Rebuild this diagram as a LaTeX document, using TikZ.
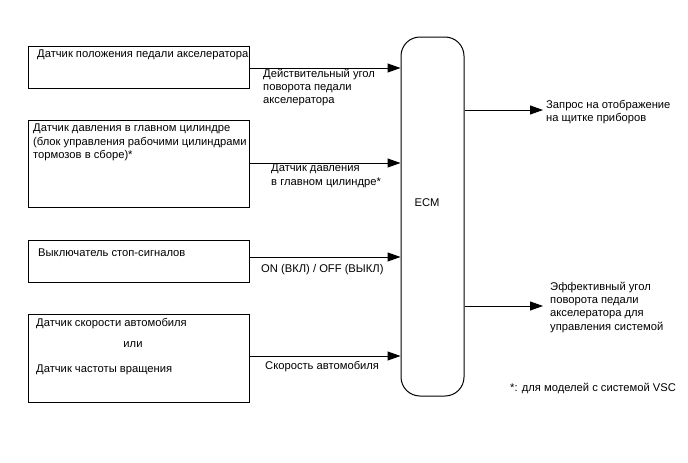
\documentclass[tikz,border=0pt]{standalone}
\usepackage{fontspec}
\setmainfont{Liberation Sans}
\usepackage{tikz}
\usetikzlibrary{arrows.meta,positioning,calc}
\tikzset{
  sensor/.style={draw, line width=1pt, minimum width=221pt, inner sep=0pt},
  ecmbox/.style={draw, line width=1pt, rounded corners=19pt, minimum width=63pt, minimum height=359pt, inner sep=0pt},
  txt/.style={inner sep=0pt, align=left, font=\fontsize{11.2}{13.2}\selectfont},
  sig/.style={line width=1pt, -{Triangle[length=13pt,width=9pt]}}
}
\begin{document}
\begin{tikzpicture}[x=1pt,y=-1pt]
\useasboundingbox (0,0) rectangle (688,463);
% sensors
\node[sensor, minimum height=42pt] (s1) at (138.5,67) {};
\node[sensor, minimum height=87pt] (s2) at (138.5,163.5) {};
\node[sensor, minimum height=42pt] (s3) at (138.5,261) {};
\node[sensor, minimum height=88pt] (s4) at (138.5,358) {};
\node[ecmbox] (ecm) at (432.5,216.5) {};
\node[txt] (ecmt) at (427,203) {ECM};

\node[txt, anchor=west] (s1t) at (37,55) {Датчик положения педали акселератора};
\node[txt, anchor=north west] (s2t) at (33,124) {Датчик давления в главном цилиндре\\(блок управления рабочими цилиндрами\\тормозов в сборе)*};
\node[txt, anchor=west] (s3t) at (38,253) {Выключатель стоп-сигналов};
\node[txt, anchor=west] (s4a) at (36,324) {Датчик скорости автомобиля};
\node[txt] (s4b) at (133,345) {или};
\node[txt, anchor=west] (s4c) at (36,370) {Датчик частоты вращения};

% inputs
\draw[sig] (s1.east |- 0,68) -- (ecm.west |- 0,68);
\draw[sig] (s2.east |- 0,163) -- (ecm.west |- 0,163);
\draw[sig] (s3.east |- 0,257) -- (ecm.west |- 0,257);
\draw[sig] (s4.east |- 0,356) -- (ecm.west |- 0,356);
\node[txt, anchor=north west] (l1) at (263,69) {Действительный угол\\поворота педали\\акселератора};
\node[txt, anchor=north west] (l2) at (271,164) {Датчик давления\\в главном цилиндре*};
\node[txt, anchor=west] (l3) at (261,270) {ON (ВКЛ) / OFF (ВЫКЛ)};
\node[txt, anchor=west] (l4) at (265,367) {Скорость автомобиля};

% outputs
\coordinate (o1) at (543,110);
\coordinate (o2) at (543,306);
\draw[sig] (ecm.east |- o1) -- (o1);
\draw[sig] (ecm.east |- o2) -- (o2);
\node[txt, anchor=north west] (r1) at (546,100) {Запрос на отображение\\на щитке приборов};
\node[txt, anchor=north west] (r2) at (550,282) {Эффективный угол\\поворота педали\\акселератора для\\управления системой};

\node[txt, anchor=west] (fn) at (510,388) {*: для моделей с системой VSC};
\end{tikzpicture}
\end{document}
